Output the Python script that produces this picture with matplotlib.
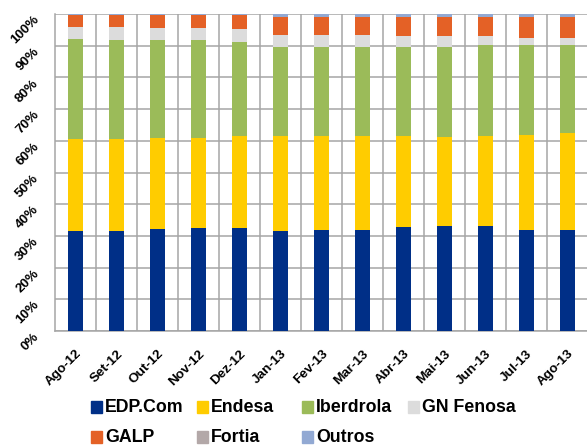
import matplotlib
matplotlib.use("Agg")
import matplotlib.pyplot as plt
from matplotlib.patches import Rectangle
from matplotlib.transforms import ScaledTranslation
import numpy as np

months = ["Ago-12", "Set-12", "Out-12", "Nov-12", "Dez-12", "Jan-13", "Fev-13",
          "Mar-13", "Abr-13", "Mai-13", "Jun-13", "Jul-13", "Ago-13"]
series_names = ["EDP.Com", "Endesa", "Iberdrola", "GN Fenosa", "GALP", "Fortia", "Outros"]

edp       = [31.6, 31.6, 32.1, 32.5, 32.5, 31.6, 32.0, 32.0, 32.9, 33.2, 33.2, 32.0, 32.0]
endesa    = [28.9, 28.9, 28.7, 28.3, 29.1, 30.0, 29.6, 29.6, 28.7, 28.0, 28.4, 29.9, 30.4]
iberdrola = [31.7, 31.2, 30.9, 30.9, 29.7, 28.1, 28.1, 28.1, 28.1, 28.5, 28.5, 28.2, 27.7]
gnfenosa  = [3.8, 4.3, 3.9, 3.9, 4.0, 3.7, 3.7, 3.7, 3.3, 3.3, 2.9, 2.4, 2.4]
galp      = [3.7, 3.7, 4.1, 4.1, 4.4, 5.6, 5.6, 5.6, 6.0, 6.0, 6.0, 6.5, 6.5]
fortia    = [0.1, 0.1, 0.1, 0.1, 0.1, 0.1, 0.1, 0.1, 0.1, 0.1, 0.1, 0.1, 0.1]
outros    = [0.2, 0.2, 0.2, 0.2, 0.2, 0.9, 0.9, 0.9, 0.9, 0.9, 0.9, 0.9, 0.9]

yticks = [0, 10, 20, 30, 40, 50, 60, 70, 80, 90, 100]
ytick_labels = ["0%", "10%", "20%", "30%", "40%", "50%", "60%", "70%", "80%", "90%", "100%"]

colors = ["#002F87", "#FFCC00", "#9BBB59", "#DCDCDC", "#E46126", "#B3A8A8", "#92A9D3"]

W, H = 587, 445
fig = plt.figure(figsize=(W / 100, H / 100), dpi=100)
ax = fig.add_axes([55 / W, 1 - 331 / H, 533 / W, 317 / H])

data = [edp, endesa, iberdrola, gnfenosa, galp, fortia, outros]
x = np.arange(len(months))
bottom = np.zeros(len(months))
for vals, col, name in zip(data, colors, series_names):
    ax.bar(x, vals, width=0.39, bottom=bottom, color=col, label=name, zorder=3)
    bottom += np.array(vals)

grid_c = "#A6A6A6"
ax.set_xlim(-0.5, len(months) - 0.5)
ax.set_ylim(0, 100)
ax.set_yticks(yticks)
ax.set_xticks(x)
ax.set_xticks(np.arange(len(months)) + 0.5, minor=True)
ax.grid(axis="y", which="major", color=grid_c, lw=1.1, zorder=0)
ax.grid(axis="x", which="minor", color=grid_c, lw=1.1, zorder=0)
ax.grid(axis="x", which="major", visible=False)
for s in ["top", "right"]:
    ax.spines[s].set_visible(False)
for s in ["left", "bottom"]:
    ax.spines[s].set_color(grid_c)
    ax.spines[s].set_linewidth(1.1)
ax.tick_params(axis="both", which="both", length=0)

tick_font = dict(family=["Liberation Sans", "DejaVu Sans"], weight="bold", size=9.7)
ax.set_yticklabels(ytick_labels, rotation=45, ha="right", va="center",
                   rotation_mode="anchor", **tick_font)
ax.set_xticklabels(months, rotation=45, ha="right", va="top",
                   rotation_mode="anchor", **tick_font)
ax.tick_params(axis="y", pad=13)
ax.tick_params(axis="x", pad=12)
off = ScaledTranslation(0, -4 / 100, fig.dpi_scale_trans)
for lbl in ax.get_yticklabels():
    lbl.set_transform(lbl.get_transform() + off)

# legend (Excel-style, equal column spacing)
leg_font = dict(family=["Liberation Sans", "DejaVu Sans"], weight="bold", size=12.8)
col_x = [91, 197, 302, 408]
row_y = [407, 437]
for i, (name, col) in enumerate(zip(series_names, colors)):
    r, c = divmod(i, 4)
    px, py = col_x[c], row_y[r]
    fig.patches.append(Rectangle((px / W, 1 - (py + 6) / H), 11 / W, 12 / H,
                                 transform=fig.transFigure, color=col))
    fig.text((px + 14) / W, 1 - py / H, name, ha="left", va="center", **leg_font)

fig.savefig("out.png", dpi=100)
